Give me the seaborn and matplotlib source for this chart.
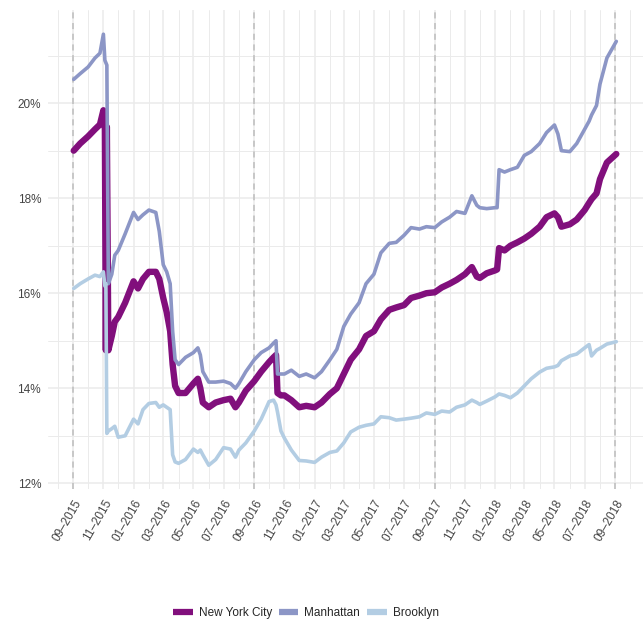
import pandas as pd
import numpy as np
import seaborn as sns
import matplotlib.pyplot as plt
import matplotlib.dates as mdates
from matplotlib.lines import Line2D
from matplotlib.ticker import FixedLocator, FuncFormatter

# Readings taken off the chart (share in %), one date list for all three areas
dates = [
    "2015-09-02", "2015-09-15", "2015-10-01", "2015-10-15", "2015-10-25", "2015-11-01",
    "2015-11-04", "2015-11-06", "2015-11-08", "2015-11-11", "2015-11-18", "2015-11-24",
    "2015-12-01", "2015-12-15", "2016-01-01", "2016-01-10", "2016-01-20", "2016-02-01",
    "2016-02-15", "2016-02-22", "2016-03-01", "2016-03-08", "2016-03-15", "2016-03-20",
    "2016-03-25", "2016-04-01", "2016-04-15", "2016-05-01", "2016-05-10", "2016-05-15",
    "2016-05-20", "2016-06-01", "2016-06-15", "2016-07-01", "2016-07-15", "2016-07-25",
    "2016-08-01", "2016-08-15", "2016-09-01", "2016-09-15", "2016-10-01", "2016-10-10",
    "2016-10-15", "2016-10-18", "2016-10-25", "2016-11-01", "2016-11-15", "2016-12-01",
    "2016-12-15", "2017-01-01", "2017-01-15", "2017-02-01", "2017-02-15", "2017-03-01",
    "2017-03-15", "2017-04-01", "2017-04-15", "2017-05-01", "2017-05-15", "2017-06-01",
    "2017-06-15", "2017-07-01", "2017-07-15", "2017-08-01", "2017-08-15", "2017-09-01",
    "2017-09-15", "2017-10-01", "2017-10-15", "2017-11-01", "2017-11-15", "2017-11-25",
    "2017-12-01", "2017-12-15", "2018-01-01", "2018-01-05", "2018-01-09", "2018-01-20",
    "2018-02-01", "2018-02-15", "2018-03-01", "2018-03-15", "2018-04-01", "2018-04-15",
    "2018-05-01", "2018-05-08", "2018-05-15", "2018-06-01", "2018-06-15", "2018-07-01",
    "2018-07-10", "2018-07-15", "2018-07-25", "2018-08-01", "2018-08-15", "2018-09-03",
]
nyc = [
    19.0, 19.15, 19.3, 19.45, 19.55, 19.85,
    19.45, 14.8, 19.5, 14.8, 15.1, 15.4,
    15.5, 15.8, 16.25, 16.1, 16.3, 16.45,
    16.45, 16.3, 15.9, 15.6, 15.2, 14.5,
    14.05, 13.9, 13.9, 14.1, 14.2, 14.0,
    13.7, 13.6, 13.7, 13.75, 13.78, 13.6,
    13.7, 13.95, 14.15, 14.35, 14.55, 14.65,
    14.7, 13.9, 13.85, 13.85, 13.75, 13.6,
    13.63, 13.6, 13.7, 13.88, 14.0, 14.3,
    14.6, 14.82, 15.1, 15.2, 15.45, 15.65,
    15.7, 15.75, 15.9, 15.95, 16.0, 16.02,
    16.12, 16.2, 16.28, 16.4, 16.55, 16.35,
    16.32, 16.42, 16.48, 16.5, 16.95, 16.9,
    17.0, 17.07, 17.15, 17.25, 17.4, 17.6,
    17.68, 17.6, 17.4, 17.45, 17.55, 17.75,
    17.9, 17.98, 18.1, 18.4, 18.75, 18.93,
]
manhattan = [
    20.5, 20.62, 20.76, 20.95, 21.05, 21.45,
    20.9, 20.85, 20.8, 16.2, 16.4, 16.8,
    16.9, 17.25, 17.7, 17.55, 17.65, 17.75,
    17.7, 17.3, 16.6, 16.45, 16.2, 15.2,
    14.6, 14.5, 14.65, 14.75, 14.85, 14.7,
    14.35, 14.13, 14.13, 14.15, 14.1, 14.0,
    14.1, 14.35, 14.6, 14.75, 14.85, 14.95,
    15.0, 14.3, 14.3, 14.3, 14.38, 14.25,
    14.3, 14.22, 14.35, 14.6, 14.82, 15.3,
    15.56, 15.8, 16.2, 16.4, 16.85, 17.05,
    17.07, 17.22, 17.38, 17.35, 17.4, 17.38,
    17.5, 17.6, 17.72, 17.68, 18.05, 17.85,
    17.8, 17.78, 17.8, 17.8, 18.6, 18.55,
    18.6, 18.65, 18.9, 18.98, 19.15, 19.38,
    19.54, 19.35, 19.0, 18.98, 19.15, 19.45,
    19.62, 19.75, 19.95, 20.4, 20.95, 21.3,
]
brooklyn = [
    16.1, 16.2, 16.3, 16.38, 16.35, 16.45,
    16.15, 16.2, 13.05, 13.1, 13.15, 13.2,
    12.97, 13.0, 13.35, 13.25, 13.55, 13.68,
    13.7, 13.6, 13.65, 13.6, 13.55, 12.6,
    12.45, 12.42, 12.5, 12.72, 12.65, 12.7,
    12.6, 12.38, 12.5, 12.75, 12.72, 12.55,
    12.7, 12.85, 13.1, 13.35, 13.72, 13.75,
    13.65, 13.5, 13.1, 12.95, 12.7, 12.48,
    12.47, 12.44, 12.55, 12.65, 12.68, 12.85,
    13.08, 13.18, 13.22, 13.25, 13.4, 13.38,
    13.33, 13.35, 13.37, 13.4, 13.48, 13.45,
    13.52, 13.5, 13.6, 13.65, 13.75, 13.7,
    13.66, 13.73, 13.82, 13.85, 13.88, 13.85,
    13.8, 13.9, 14.05, 14.2, 14.34, 14.42,
    14.45, 14.48, 14.58, 14.68, 14.72, 14.85,
    14.92, 14.68, 14.8, 14.84, 14.93, 14.98,
]

areas = ["New York City", "Manhattan", "Brooklyn"]
colors = ["#810F7C", "#8C96C6", "#B3CDE3"]
widths = [4.6, 2.6, 2.6]
season_starts = ["2015-09-01", "2016-09-01", "2017-09-01", "2018-09-01"]
y_major = [12, 14, 16, 18, 20]
y_minor = [13, 15, 17, 19, 21]

df = pd.DataFrame({"date": pd.to_datetime(dates), "New York City": nyc,
                   "Manhattan": manhattan, "Brooklyn": brooklyn})
df = df.melt(id_vars="date", var_name="area", value_name="share")

sns.set_style("white")
plt.rcParams["font.family"] = ["Liberation Sans", "DejaVu Sans"]

fig = plt.figure(figsize=(6.44, 6.22), dpi=100)
ax = fig.add_axes([48 / 644, 1 - 489 / 622, 595 / 644, 479 / 622])

# dashed marks at each September
for d in season_starts:
    ax.axvline(pd.Timestamp(d), color="#BDBDBD", lw=1.1, ls=(0, (4, 3)), zorder=1.5)

sns.lineplot(data=df, x="date", y="share", hue="area", size="area",
             hue_order=areas, size_order=areas,
             palette=dict(zip(areas, colors)), sizes=dict(zip(areas, widths)),
             estimator=None, legend=False, ax=ax,
             solid_joinstyle="round", solid_capstyle="round", zorder=3)

ax.set_xlim(pd.Timestamp("2015-07-12"), pd.Timestamp("2018-10-27"))
ax.set_ylim(11.88, 21.96)

ax.xaxis.set_major_locator(mdates.MonthLocator(bymonth=[1, 3, 5, 7, 9, 11]))
ax.xaxis.set_minor_locator(mdates.MonthLocator(bymonth=[2, 4, 6, 8, 10, 12]))
ax.xaxis.set_major_formatter(mdates.DateFormatter("%m\u2013%Y"))
ax.yaxis.set_major_locator(FixedLocator(y_major))
ax.yaxis.set_minor_locator(FixedLocator(y_minor))
ax.yaxis.set_major_formatter(FuncFormatter(lambda v, p: f"{v:.0f}%"))

ax.set_axisbelow(True)
ax.grid(which="major", color="#EBEBEB", lw=1.1)
ax.grid(which="minor", color="#EBEBEB", lw=0.7)
for s in ax.spines.values():
    s.set_visible(False)

ax.tick_params(which="both", length=0, labelsize=8.5, colors="#444444")
ax.tick_params(axis="y", pad=5)
ax.tick_params(axis="x", pad=6)
for lab in ax.get_xticklabels():
    lab.set_rotation(60)
    lab.set_ha("right")
    lab.set_va("top")
    lab.set_rotation_mode("anchor")
ax.set_xlabel("")
ax.set_ylabel("")

handles = [Line2D([0], [0], color=c, lw=4.5, solid_capstyle="butt") for c in colors]
fig.legend(handles, areas, loc="center", bbox_to_anchor=(0.475, 0.014), ncol=3,
           frameon=False, fontsize=8.5, handlelength=1.65, handletextpad=0.5,
           columnspacing=0.6)

fig.savefig("out.png", dpi=100)
